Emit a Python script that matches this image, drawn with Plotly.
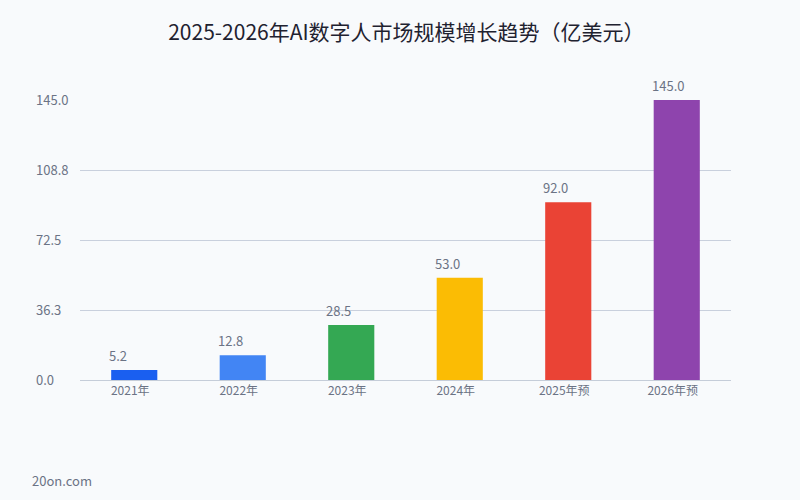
import plotly.graph_objects as go

categories = ["2021年", "2022年", "2023年", "2024年", "2025年预", "2026年预"]
values = [5.2, 12.8, 28.5, 53.0, 92.0, 145.0]
colors = ["#1a5ff0", "#4285f4", "#34a853", "#fbbc04", "#ea4335", "#8e44ad"]
y_ticks = [0, 36.25, 72.5, 108.75, 145]
y_tick_labels = ["0.0", "36.3", "72.5", "108.8", "145.0"]
title = "2025-2026年AI数字人市场规模增长趋势（亿美元）"
watermark = "20on.com"

FONT = "Noto Sans CJK SC"
GRAY = "#6b7385"

fig = go.Figure()
fig.add_trace(go.Bar(
    x=categories, y=values, marker=dict(color=colors, line=dict(width=0)),
    hoverinfo="x+y",
))

annotations = []
for c, v in zip(categories, values):
    annotations.append(dict(
        x=c, y=v, xref="x", yref="y", text=f"{v:.1f}", showarrow=False,
        xanchor="left", yanchor="bottom", xshift=-27, yshift=3,
        font=dict(family=FONT, size=13, color=GRAY),
    ))
for t, lab in zip(y_ticks, y_tick_labels):
    annotations.append(dict(
        x=0, y=t, xref="paper", yref="y", text=lab, showarrow=False,
        xanchor="left", yanchor="middle", xshift=-46, yshift=1,
        font=dict(family=FONT, size=13, color=GRAY),
    ))
annotations.append(dict(
    x=0, y=0, xref="paper", yref="paper", text=watermark, showarrow=False,
    xanchor="left", yanchor="middle", xshift=-50, yshift=-100,
    font=dict(family=FONT, size=13, color=GRAY),
))

fig.update_layout(
    width=800, height=500,
    margin=dict(l=80, r=69, t=100, b=120),
    paper_bgcolor="#f8fafc", plot_bgcolor="#f8fafc",
    title=dict(text=title, x=0.508, xanchor="center", y=0.935, yanchor="middle",
               font=dict(family=FONT, size=21, color="#1f2230")),
    bargap=0.575,
    showlegend=False,
    annotations=annotations,
    font=dict(family=FONT),
)
fig.update_xaxes(
    showgrid=False, showline=True, linecolor="#c5cdd9", linewidth=1,
    ticks="", tickfont=dict(family=FONT, size=12, color=GRAY),
    ticklabelshift=-4,
)
fig.update_yaxes(
    range=[0, 145], tickvals=y_ticks, showticklabels=False,
    showgrid=True, gridcolor="#c9d0dd", gridwidth=1, zeroline=False,
)
fig.write_html("out.html")
